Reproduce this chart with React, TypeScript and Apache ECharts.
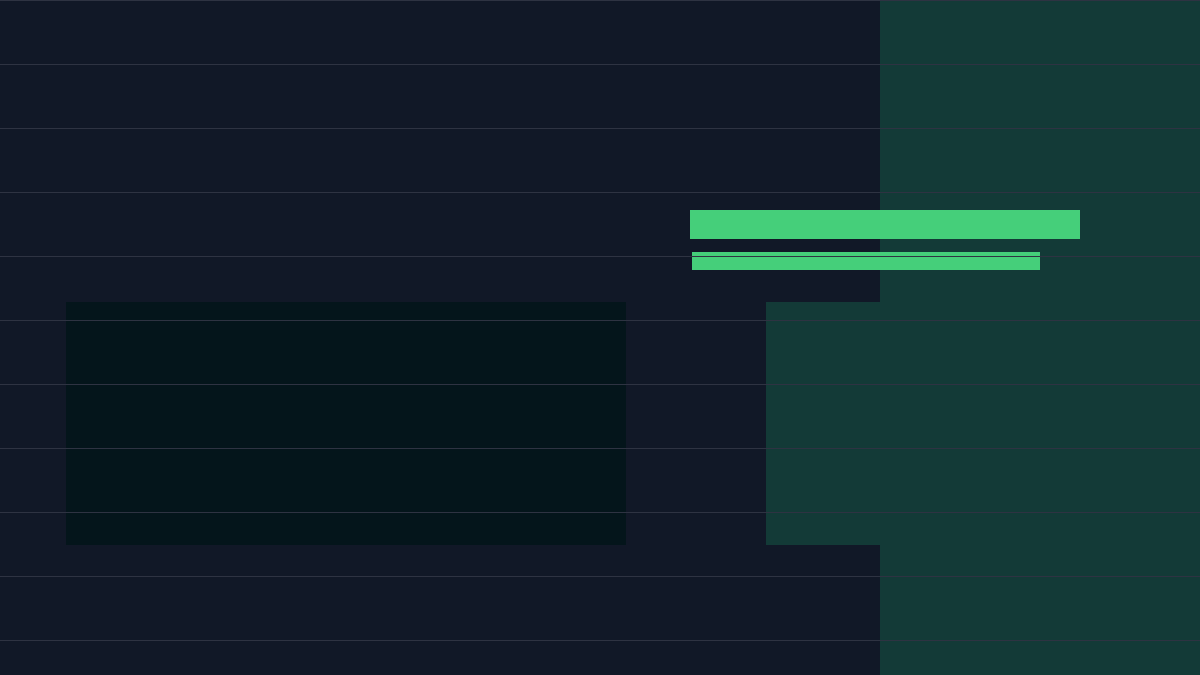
import React, { useEffect, useRef } from 'react';
import * as echarts from 'echarts';

// spans in chart units: [xStart, xEnd, yStart, yEnd]
const bandSpans = [[880, 1200, 0, 675]];
const blockSpans = [
  [66, 626, 302, 545],
  [766, 1200, 302, 545]
];
const blockKinds = ['dim', 'accent'];
const barSpans = [
  [690, 1080, 210, 239],
  [692, 1040, 252, 270]
];

const xRange = [0, 1200];
const yRange = [0, 675];
const yStep = 64;

const BG = '#111827';
const GRID = '#2e3342';
const ACCENT_BG = '#133a37';
const DIM_BG = '#04151b';
const BAR = '#45cf7a';

const spanRenderer = (fill: (idx: number) => string) => (params: any, api: any) => {
  const p0 = api.coord([api.value(0), api.value(2)]);
  const p1 = api.coord([api.value(1), api.value(3)]);
  return {
    type: 'rect',
    shape: {
      x: Math.min(p0[0], p1[0]),
      y: Math.min(p0[1], p1[1]),
      width: Math.abs(p1[0] - p0[0]),
      height: Math.abs(p1[1] - p0[1])
    },
    style: { fill: fill(params.dataIndex) }
  };
};

const App: React.FC = () => {
  const chartRef = useRef<HTMLDivElement>(null);

  useEffect(() => {
    if (!chartRef.current) return;
    const chart = echarts.init(chartRef.current, undefined, { renderer: 'svg' });

    const option: any = {
      animation: false,
      backgroundColor: BG,
      grid: { left: 0, top: 0, right: 0, bottom: 0 },
      xAxis: {
        type: 'value',
        min: xRange[0],
        max: xRange[1],
        show: false
      },
      yAxis: {
        type: 'value',
        min: yRange[0],
        max: yRange[1],
        interval: yStep,
        inverse: true,
        z: 10,
        axisLine: { show: false },
        axisTick: { show: false },
        axisLabel: { show: false },
        splitLine: { show: true, showMaxLine: false, lineStyle: { color: GRID, width: 1 } }
      },
      series: [
        {
          type: 'custom',
          z: 1,
          renderItem: spanRenderer(() => ACCENT_BG),
          encode: { x: [0, 1], y: [2, 3] },
          data: bandSpans,
          silent: true
        },
        {
          type: 'custom',
          z: 2,
          renderItem: spanRenderer(i => (blockKinds[i] === 'accent' ? ACCENT_BG : DIM_BG)),
          encode: { x: [0, 1], y: [2, 3] },
          data: blockSpans,
          silent: true
        },
        {
          type: 'custom',
          z: 3,
          renderItem: spanRenderer(() => BAR),
          encode: { x: [0, 1], y: [2, 3] },
          data: barSpans
        }
      ]
    };

    chart.setOption(option);
    return () => {
      chart.dispose();
    };
  }, []);

  return (
    <div
      ref={chartRef}
      style={{ position: 'fixed', left: 0, top: 0, width: '1200px', height: '675px' }}
    />
  );
};

export default App;
